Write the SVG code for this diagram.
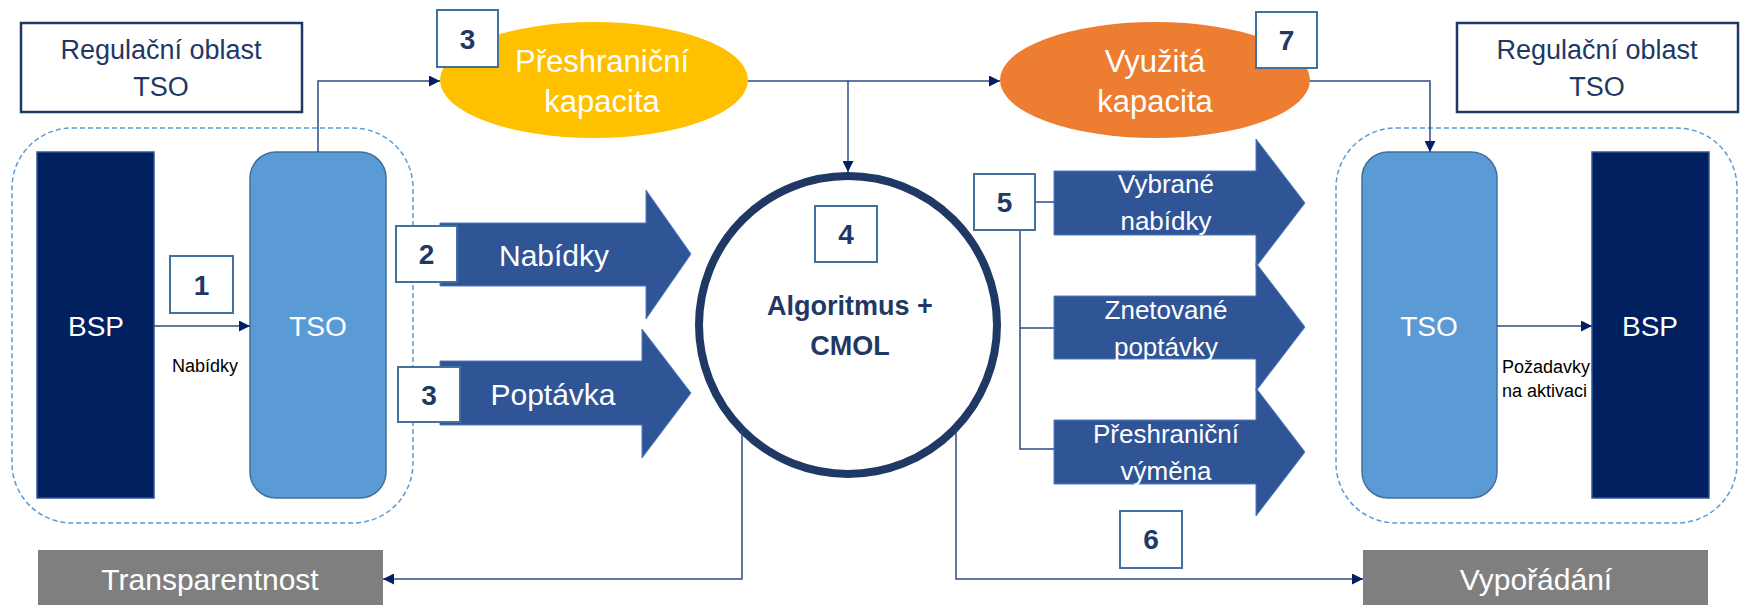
<svg xmlns="http://www.w3.org/2000/svg" width="1743" height="605" viewBox="0 0 1743 605">
<style>
text{font-family:"Liberation Sans",Arial,sans-serif}
.wt{fill:#ffffff}
.nv{fill:#1F3864}
.num{fill:#1F3864;font-weight:bold;font-size:28px}
.nbox{fill:#ffffff;stroke:#41719C;stroke-width:2}
.reg{fill:#ffffff;stroke:#1F3864;stroke-width:2.5}
.dash{fill:none;stroke:#5B9BD5;stroke-width:1.5;stroke-dasharray:5 3}
.bsp{fill:#002060;stroke:#2F5597;stroke-width:1.5}
.tso{fill:#5B9BD5;stroke:#41719C;stroke-width:1.5}
.barr{fill:#2F5597;stroke:#4F7CC0;stroke-width:1}
.con{fill:none;stroke:#2E4A85;stroke-width:1.5}
.grey{fill:#7F7F7F}
</style>
<defs>
<marker id="ah" viewBox="0 0 10 10" refX="10" refY="5" markerWidth="11" markerHeight="11" markerUnits="userSpaceOnUse" orient="auto">
<path d="M0,0 L10,5 L0,10 Z" fill="#002060"/>
</marker>
</defs>

<g id="region-left">
<rect class="reg" x="21" y="23" width="281" height="89"/>
<text class="nv" x="161" y="59" font-size="27" text-anchor="middle">Regulační oblast</text>
<text class="nv" x="161" y="96" font-size="27" text-anchor="middle">TSO</text>
<rect class="dash" x="12" y="128" width="401" height="395" rx="60"/>
</g>
<g id="bsp-left">
<rect class="bsp" x="37" y="152" width="117" height="346"/>
<text class="wt" x="96" y="336" font-size="28" text-anchor="middle">BSP</text>
</g>
<g id="tso-left">
<rect class="tso" x="250" y="152" width="136" height="346" rx="26"/>
<text class="wt" x="318" y="336" font-size="28" text-anchor="middle">TSO</text>
</g>

<g id="region-right">
<rect class="reg" x="1457" y="23" width="281" height="89"/>
<text class="nv" x="1597" y="59" font-size="27" text-anchor="middle">Regulační oblast</text>
<text class="nv" x="1597" y="96" font-size="27" text-anchor="middle">TSO</text>
<rect class="dash" x="1336" y="128" width="401" height="395" rx="60"/>
</g>
<g id="tso-right">
<rect class="tso" x="1362" y="152" width="135" height="346" rx="26"/>
<text class="wt" x="1429" y="336" font-size="28" text-anchor="middle">TSO</text>
</g>
<g id="bsp-right">
<rect class="bsp" x="1592" y="152" width="117" height="346"/>
<text class="wt" x="1650" y="336" font-size="28" text-anchor="middle">BSP</text>
</g>

<g id="cap-cross">
<ellipse cx="594" cy="80" rx="154" ry="58" fill="#FFC000"/>
<text class="wt" x="602" y="72" font-size="31" text-anchor="middle">Přeshraniční</text>
<text class="wt" x="602" y="112" font-size="31" text-anchor="middle">kapacita</text>
</g>
<g id="cap-used">
<ellipse cx="1155" cy="80" rx="155" ry="58" fill="#ED7D31"/>
<text class="wt" x="1155" y="72" font-size="31" text-anchor="middle">Využitá</text>
<text class="wt" x="1155" y="112" font-size="31" text-anchor="middle">kapacita</text>
</g>

<g id="algo">
<circle cx="848" cy="325" r="149" fill="#ffffff" stroke="#1F3864" stroke-width="8"/>
<text class="nv" x="850" y="315" font-size="27" font-weight="bold" text-anchor="middle">Algoritmus +</text>
<text class="nv" x="850" y="355" font-size="27" font-weight="bold" text-anchor="middle">CMOL</text>
</g>

<g id="arr-nabidky">
<polygon class="barr" points="440,223 646,223 646,190 691,254 646,319 646,286 440,286"/>
<text class="wt" x="554" y="266" font-size="30" text-anchor="middle">Nabídky</text>
</g>
<g id="arr-poptavka">
<polygon class="barr" points="440,361 642,361 642,329 691,393 642,458 642,425 440,425"/>
<text class="wt" x="553" y="405" font-size="30" text-anchor="middle">Poptávka</text>
</g>

<g id="arr-vybrane">
<polygon class="barr" points="1054,171 1256,171 1256,139 1305,203 1256,267 1256,235 1054,235"/>
<text class="wt" x="1166" y="193" font-size="26" text-anchor="middle">Vybrané</text>
<text class="wt" x="1166" y="230" font-size="26" text-anchor="middle">nabídky</text>
</g>
<g id="arr-znetovane">
<polygon class="barr" points="1054,296 1256,296 1256,263 1305,327 1256,391 1256,359 1054,359"/>
<text class="wt" x="1166" y="319" font-size="26" text-anchor="middle">Znetované</text>
<text class="wt" x="1166" y="356" font-size="26" text-anchor="middle">poptávky</text>
</g>
<g id="arr-vymena">
<polygon class="barr" points="1054,420 1256,420 1256,388 1305,452 1256,516 1256,484 1054,484"/>
<text class="wt" x="1166" y="443" font-size="26" text-anchor="middle">Přeshraniční</text>
<text class="wt" x="1166" y="480" font-size="26" text-anchor="middle">výměna</text>
</g>

<g id="transparentnost">
<rect class="grey" x="38" y="550" width="345" height="60"/>
<text class="wt" x="210" y="590" font-size="30" text-anchor="middle">Transparentnost</text>
</g>
<g id="vyporadani">
<rect class="grey" x="1363" y="550" width="345" height="60"/>
<text class="wt" x="1536" y="590" font-size="30" text-anchor="middle">Vypořádání</text>
</g>

<g id="connectors">
<path class="con" d="M154,326 L250,326" marker-end="url(#ah)"/>
<path class="con" d="M1497,326 L1592,326" marker-end="url(#ah)"/>
<path class="con" d="M318,152 L318,81 L440,81" marker-end="url(#ah)"/>
<path class="con" d="M748,81 L1000,81" marker-end="url(#ah)"/>
<path class="con" d="M848,81 L848,172" marker-end="url(#ah)"/>
<path class="con" d="M1310,81 L1430,81 L1430,152" marker-end="url(#ah)"/>
<path class="con" d="M742,431 L742,579 L383,579" marker-end="url(#ah)"/>
<path class="con" d="M956,429 L956,579 L1363,579" marker-end="url(#ah)"/>
<path class="con" d="M1035,202 L1054,202"/>
<path class="con" d="M1020,230 L1020,449 L1054,449 M1020,328 L1054,328"/>
</g>

<g id="labels">
<text x="172" y="372" font-size="18" fill="#000000">Nabídky</text>
<text x="1502" y="373" font-size="18" fill="#000000">Požadavky</text>
<text x="1502" y="397" font-size="18" fill="#000000">na aktivaci</text>
</g>

<g id="num-1"><rect class="nbox" x="170" y="256" width="63" height="57"/><text class="num" x="201.5" y="295" text-anchor="middle">1</text></g>
<g id="num-2"><rect class="nbox" x="396" y="226" width="61" height="56"/><text class="num" x="426.5" y="264" text-anchor="middle">2</text></g>
<g id="num-3a"><rect class="nbox" x="437" y="10" width="61" height="57"/><text class="num" x="467.5" y="49" text-anchor="middle">3</text></g>
<g id="num-3b"><rect class="nbox" x="398" y="367" width="62" height="55"/><text class="num" x="429" y="405" text-anchor="middle">3</text></g>
<g id="num-4"><rect class="nbox" x="815" y="206" width="62" height="56"/><text class="num" x="846" y="244" text-anchor="middle">4</text></g>
<g id="num-5"><rect class="nbox" x="974" y="174" width="61" height="56"/><text class="num" x="1004.5" y="212" text-anchor="middle">5</text></g>
<g id="num-6"><rect class="nbox" x="1120" y="511" width="62" height="57"/><text class="num" x="1151" y="549" text-anchor="middle">6</text></g>
<g id="num-7"><rect class="nbox" x="1256" y="12" width="61" height="56"/><text class="num" x="1286.5" y="50" text-anchor="middle">7</text></g>
</svg>
